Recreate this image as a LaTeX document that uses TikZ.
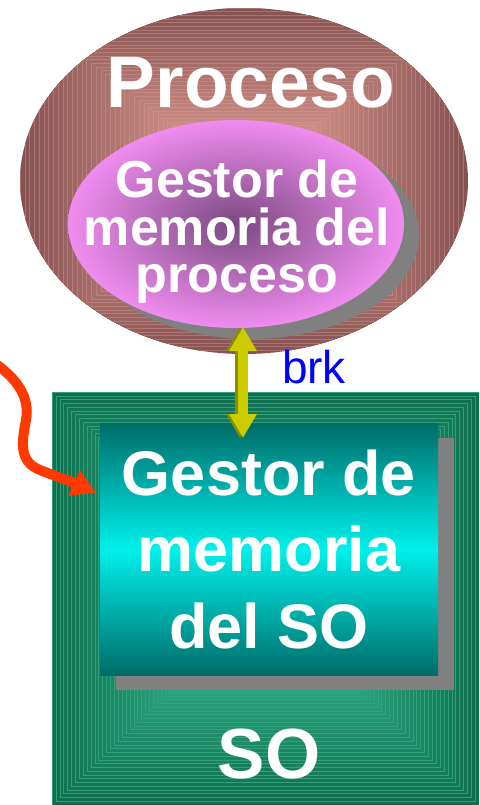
\documentclass[tikz,border=0pt]{standalone}
\usepackage{fontspec}
\setmainfont{Liberation Sans}
\usetikzlibrary{arrows.meta,shapes.geometric}
\definecolor{brout}{HTML}{855252}
\definecolor{brin}{HTML}{DC9A92}
\definecolor{brline}{HTML}{C99088}
\definecolor{soout}{HTML}{0E6E4E}
\definecolor{soin}{HTML}{2EA882}
\definecolor{soline}{HTML}{4DBB95}
\definecolor{pkin}{HTML}{7A4A80}
\definecolor{pkout}{HTML}{F08CF0}
\definecolor{tealdark}{HTML}{006C68}
\definecolor{tealmid}{HTML}{00F0EC}
\definecolor{shadowgray}{HTML}{808080}
\definecolor{brkyellow}{HTML}{CCCC00}
\definecolor{brkolive}{HTML}{8C8C00}
\definecolor{redarr}{HTML}{FF3A00}
\definecolor{brkblue}{HTML}{0000FF}
\tikzset{
  bigtext/.style={text=white, font=\bfseries, inner sep=0pt, align=center},
  shadowshape/.style={fill=shadowgray, draw=none, inner sep=0pt},
  dblarrow/.style={line width=10pt, {Triangle[width=26pt,length=24pt]}-{Triangle[width=26pt,length=24pt]}},
  redarrow/.style={draw=redarr, line width=10pt, -{Triangle[width=26pt,length=24pt]}}
}
\begin{document}
\begin{tikzpicture}[x=1pt,y=-1pt]
\useasboundingbox (0,0) rectangle (479,805);
% ---------- SO box ----------
\begin{scope}
  \clip (52,392) rectangle (479,805);
  \foreach \i in {0,...,34}{
    \pgfmathsetmacro\s{1-0.62*\i/34}
    \pgfmathtruncatemacro\p{100-\i*100/34}
    \filldraw[fill=soout!\p!soin, draw=soline!60!soout!\p!soin, line width=0.5pt]
      (265.5-213.5*\s,598.5-206.5*\s) rectangle (265.5+213.5*\s,598.5+206.5*\s);
  }
\end{scope}
\node[rectangle, minimum width=427pt, minimum height=413pt, inner sep=0pt, draw=none] (so) at (265.5,598.5) {};
% ---------- Proceso ellipse ----------
\begin{scope}
  \clip (244,181) ellipse [x radius=224, y radius=173];
  \foreach \i in {0,...,40}{
    \pgfmathsetmacro\s{1-0.85*\i/40}
    \pgfmathtruncatemacro\p{100-\i*100/40}
    \filldraw[fill=brout!\p!brin, draw=brline!50!brout!\p!brin, line width=0.5pt]
      (244-224*\s,181-173*\s) rectangle (244+224*\s,181+173*\s);
  }
\end{scope}
\node[ellipse, minimum width=448pt, minimum height=346pt, inner sep=0pt, draw=none] (proc) at (244,181) {};
% ---------- process memory manager ----------
\node[ellipse, shadowshape, minimum width=336pt, minimum height=208pt] (gestpsh) at (251,235) {};
\node[ellipse, minimum width=336pt, minimum height=208pt, inner sep=0pt, draw=none,
  shading=radial, inner color=pkin, outer color=pkout] (gestp) at (236,224) {};
% ---------- OS memory manager ----------
\node[rectangle, shadowshape, minimum width=338pt, minimum height=252pt] (gestsosh) at (285,564) {};
\node[rectangle, minimum width=338pt, minimum height=252pt, inner sep=0pt, draw=none,
  top color=tealdark, bottom color=tealdark, middle color=tealmid] (gestso) at (269,549) {};
% ---------- texts ----------
\node[bigtext, anchor=base, font=\fontsize{73}{73}\selectfont\bfseries] (proctxt) at (251,108) {Proceso};
\node[bigtext, font=\fontsize{52}{47.5}\selectfont\bfseries] (gestptxt) at (237,232) {Gestor de\\memoria del\\proceso};
\node[bigtext, font=\fontsize{63}{76.5}\selectfont\bfseries] (gestsotxt) at (269,549) {Gestor de\\memoria\\del SO};
\node[bigtext, anchor=base, font=\fontsize{71}{71}\selectfont\bfseries] (sotxt) at (269,778) {SO};
\node[anchor=base, inner sep=0pt, text=brkblue, font=\fontsize{46}{46}\selectfont] (brk) at (314,383) {brk};
% ---------- brk double arrow ----------
\coordinate (bt) at (243,327);
\coordinate (bb) at (243,438);
\draw[dblarrow, draw=brkolive] ([xshift=-3pt]bt) -- ([xshift=-3pt]bb);
\draw[dblarrow, draw=brkyellow] (bt) -- (bb);
% ---------- red arrow ----------
\coordinate (redstart) at (-4,364);
\coordinate (redend) at (96,493);
\draw[redarrow] (redstart) .. controls (18,380) and (30,398) .. (26,420)
  .. controls (21,445) and (20,462) .. (40,470) .. controls (55,476) and (70,481) .. (redend);
\end{tikzpicture}
\end{document}
